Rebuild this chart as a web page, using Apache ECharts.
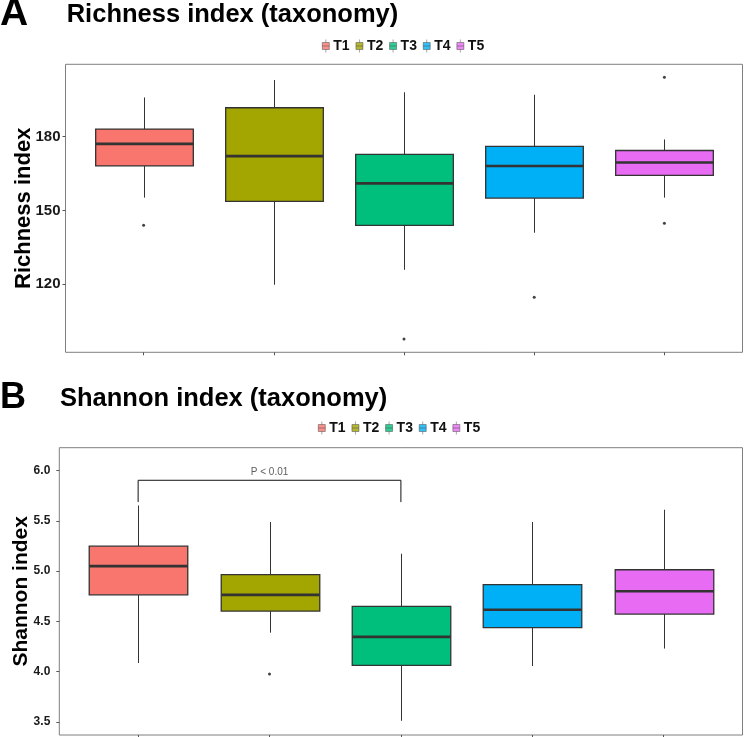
<!DOCTYPE html>
<html>
<head>
<meta charset="utf-8">
<script src="https://cdn.jsdelivr.net/npm/echarts@6/dist/echarts.min.js"></script>
<style>
html,body{margin:0;padding:0;background:#fff;}
#chart{width:744px;height:737px;}
</style>
</head>
<body>
<div id="chart"></div>
<script>
// ---------- data ----------
const groups = ['T1', 'T2', 'T3', 'T4', 'T5'];

const richnessMin    = [155.2, 119.7, 125.8, 140.9, 155.2];
const richnessQ1     = [168.1, 153.7, 143.9, 155.0, 164.3];
const richnessMedian = [177.1, 172.1, 161.0, 168.1, 169.5];
const richnessQ3     = [183.1, 191.8, 172.8, 176.1, 174.4];
const richnessMax    = [196.0, 203.1, 198.1, 197.1, 178.9];
const richnessOutliers = [['T1', 143.9], ['T3', 97.6], ['T4', 114.6], ['T5', 204.2], ['T5', 144.8]];
const richnessTicks = [120, 150, 180];

const shannonMin    = [4.085, 4.387, 3.51, 4.055, 4.229];
const shannonQ1     = [4.763, 4.602, 4.061, 4.437, 4.572];
const shannonMedian = [5.049, 4.763, 4.345, 4.615, 4.799];
const shannonQ3     = [5.247, 4.964, 4.648, 4.865, 5.013];
const shannonMax    = [5.652, 5.488, 5.172, 5.488, 5.610];
const shannonOutliers = [['T2', 3.976]];
const shannonTicks = [3.5, 4.0, 4.5, 5.0, 5.5, 6.0];

const sigPair = ['T1', 'T3'];
const sigLabelAt = 'T2';
const sigLabel = 'P < 0.01';
const sigTop = 5.903;
const sigLeg = 5.686;

// ---------- style ----------
const palette = ['#F8766D', '#A3A500', '#00BF7D', '#00B0F6', '#E76BF3'];
const FONT = '"Liberation Sans", Arial, Helvetica, sans-serif';
const legendIcon = 'path://M3.5,0V3M0,3H7V10H0ZM0,6.5H7M3.5,10V13';

function boxData(mn, q1, md, q3, mx) {
  return groups.map((g, i) => [i, mn[i], q1[i], md[i], q3[i], mx[i]]);
}

function renderBox(params, api) {
  const idx = api.value(0);
  const lo = api.coord([idx, api.value(1)]);
  const q1 = api.coord([idx, api.value(2)]);
  const md = api.coord([idx, api.value(3)]);
  const q3 = api.coord([idx, api.value(4)]);
  const hi = api.coord([idx, api.value(5)]);
  const bw = api.size([1, 0])[0] * 0.75;
  const x = Math.round(lo[0]) + 0.5;
  return {
    type: 'group',
    children: [
      { type: 'line', shape: { x1: x, y1: hi[1], x2: x, y2: q3[1] }, style: { stroke: '#333', lineWidth: 1 } },
      { type: 'line', shape: { x1: x, y1: q1[1], x2: x, y2: lo[1] }, style: { stroke: '#333', lineWidth: 1 } },
      { type: 'rect', shape: { x: x - bw / 2, y: q3[1], width: bw, height: q1[1] - q3[1] },
        style: { fill: palette[idx], stroke: '#333', lineWidth: 1.3 } },
      { type: 'line', shape: { x1: x - bw / 2, y1: md[1], x2: x + bw / 2, y2: md[1] },
        style: { stroke: '#333', lineWidth: 2.6 } }
    ]
  };
}

// panel geometry
const TOP = { left: 65.5, top: 64.3, right: 1.5, bottom: 384.7 };
const BOT = { left: 59.3, top: 447.7, right: 1.5, bottom: 2 };
const topInset = (744 - TOP.left - TOP.right) / 5.2 * 0.1;
const botInset = (744 - BOT.left - BOT.right) / 5.2 * 0.1;

const frameStyle = { show: true, borderColor: '#7f7f7f', borderWidth: 1, backgroundColor: 'transparent' };

function legendFor(left, top) {
  return {
    left: left, top: top, padding: 0, itemWidth: 7, itemHeight: 13, itemGap: 6,
    selectedMode: false, icon: legendIcon,
    itemStyle: { borderColor: '#444', borderWidth: 0.6 },
    textStyle: { fontFamily: FONT, fontWeight: 'bold', fontSize: 14, color: '#111', padding: [0, 0, 0, -1] },
    data: groups
  };
}

const legendSeries = [];
groups.forEach((g, i) => {
  [1, 3].forEach(k => {
    legendSeries.push({
      type: 'scatter', name: g, xAxisIndex: k, yAxisIndex: k, data: [],
      itemStyle: { color: palette[i], borderColor: '#444', borderWidth: 0.6 }
    });
  });
});

const option = {
  backgroundColor: '#fff',
  animation: false,
  textStyle: { fontFamily: FONT },
  graphic: [
    { type: 'text', x: 0, y: 14.5, style: { text: 'A', font: 'bold 39px ' + FONT, fill: '#000', verticalAlign: 'middle' } },
    { type: 'text', x: 66.7, y: 15, style: { text: 'Richness index (taxonomy)', font: 'bold 25.5px ' + FONT, fill: '#000', verticalAlign: 'middle' } },
    { type: 'text', x: 0, y: 398.5, style: { text: 'B', font: 'bold 36px ' + FONT, fill: '#000', verticalAlign: 'middle' } },
    { type: 'text', x: 60, y: 398.5, style: { text: 'Shannon index (taxonomy)', font: 'bold 25.5px ' + FONT, fill: '#000', verticalAlign: 'middle' } }
  ],
  legend: [legendFor(322, 39), legendFor(318, 421)],
  grid: [
    Object.assign({}, TOP, frameStyle),
    { left: TOP.left + topInset, right: TOP.right + topInset, top: TOP.top, bottom: TOP.bottom },
    Object.assign({}, BOT, frameStyle),
    { left: BOT.left + botInset, right: BOT.right + botInset, top: BOT.top, bottom: BOT.bottom }
  ],
  xAxis: [
    { gridIndex: 0, type: 'value', show: false },
    { gridIndex: 1, type: 'category', data: groups,
      axisLine: { show: false }, axisLabel: { show: false },
      axisTick: { show: true, alignWithLabel: true, length: 3, lineStyle: { color: '#555' } } },
    { gridIndex: 2, type: 'value', show: false },
    { gridIndex: 3, type: 'category', data: groups,
      axisLine: { show: false }, axisLabel: { show: false },
      axisTick: { show: true, alignWithLabel: true, length: 3, lineStyle: { color: '#555' } } }
  ],
  yAxis: [
    { gridIndex: 0, type: 'value', show: false },
    { gridIndex: 1, type: 'value', min: 92.2, max: 209.5, offset: topInset,
      name: 'Richness index', nameLocation: 'middle', nameGap: 31, nameMoveOverlap: false,
      nameTextStyle: { fontFamily: FONT, fontWeight: 'bold', fontSize: 22, color: '#000' },
      axisLine: { show: false }, splitLine: { show: false },
      axisTick: { show: true, length: 3, customValues: richnessTicks, lineStyle: { color: '#555' } },
      axisLabel: { customValues: richnessTicks, margin: 5, fontFamily: FONT, fontWeight: 'bold', fontSize: 15, color: '#1a1a1a' } },
    { gridIndex: 2, type: 'value', show: false },
    { gridIndex: 3, type: 'value', min: 3.369, max: 6.227, offset: botInset,
      name: 'Shannon index', nameLocation: 'middle', nameGap: 28, nameMoveOverlap: false,
      nameTextStyle: { fontFamily: FONT, fontWeight: 'bold', fontSize: 21, color: '#000' },
      axisLine: { show: false }, splitLine: { show: false },
      axisTick: { show: true, length: 3, customValues: shannonTicks, lineStyle: { color: '#555' } },
      axisLabel: { customValues: shannonTicks, margin: 9, fontFamily: FONT, fontWeight: 'bold', fontSize: 12, color: '#1a1a1a',
        formatter: v => v.toFixed(1) } }
  ],
  series: [
    { type: 'custom', xAxisIndex: 1, yAxisIndex: 1, renderItem: renderBox,
      encode: { x: 0, y: [1, 2, 3, 4, 5] },
      data: boxData(richnessMin, richnessQ1, richnessMedian, richnessQ3, richnessMax) },
    { type: 'scatter', xAxisIndex: 1, yAxisIndex: 1, symbolSize: 3, itemStyle: { color: '#111' },
      data: richnessOutliers },
    { type: 'custom', xAxisIndex: 3, yAxisIndex: 3, renderItem: renderBox,
      encode: { x: 0, y: [1, 2, 3, 4, 5] },
      data: boxData(shannonMin, shannonQ1, shannonMedian, shannonQ3, shannonMax) },
    { type: 'scatter', xAxisIndex: 3, yAxisIndex: 3, symbolSize: 3, itemStyle: { color: '#111' },
      data: shannonOutliers },
    { type: 'line', xAxisIndex: 3, yAxisIndex: 3, symbol: 'none',
      lineStyle: { color: '#111', width: 1 },
      data: [[sigPair[0], sigLeg], [sigPair[0], sigTop], [sigPair[1], sigTop], [sigPair[1], sigLeg]] },
    { type: 'scatter', xAxisIndex: 3, yAxisIndex: 3, symbolSize: 0, silent: true,
      label: { show: true, position: 'top', distance: 3, formatter: sigLabel, fontFamily: FONT, fontSize: 10, color: '#333' },
      data: [[sigLabelAt, sigTop]] }
  ].concat(legendSeries)
};

const chart = echarts.init(document.getElementById('chart'), null, { renderer: 'canvas' });
chart.setOption(option);
</script>
</body>
</html>
